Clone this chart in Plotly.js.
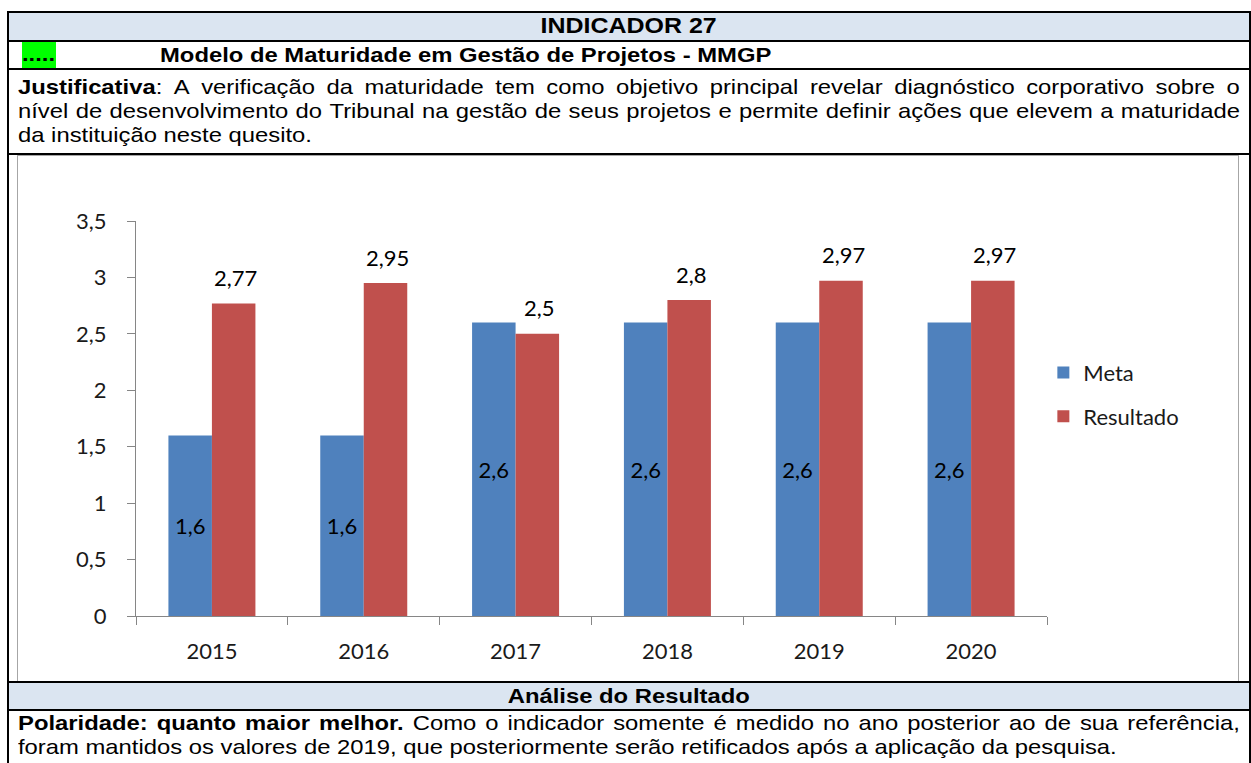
<!DOCTYPE html>
<html><head><meta charset="utf-8">
<script src="https://cdn.plot.ly/plotly-3.0.1.min.js"></script>
<style>
body{margin:0;background:#fff;width:1251px;height:763px;overflow:hidden;position:relative;font-family:"Liberation Sans",Arial,sans-serif;color:#000}
.hl{position:absolute;left:7px;width:1244px;height:2px;background:#000}
.vl{position:absolute;top:11px;width:2px;height:760px;background:#000}
.bg{position:absolute;left:9px;width:1240px;background:#dbe5f1}
.row{position:absolute;font-size:21px;line-height:24px;height:24px;white-space:nowrap}
.sc{display:inline-block;transform:scaleX(1.134)}
.left .sc{transform-origin:0 50%}
.center{left:9px;width:1240px;text-align:center}
.center .sc{transform-origin:50% 50%}
.just{left:18px;width:1077.6px;display:flex;justify-content:space-between;transform-origin:0 50%;transform:scaleX(1.134)}
#frame{position:absolute;left:17px;top:155px;width:1222px;height:526px;border:1px solid #a6a6a6;border-bottom:none;box-sizing:border-box}
#chart{position:absolute;left:18px;top:156px;width:1221px;height:525px}
#green{position:absolute;left:22px;top:42px;width:34px;height:26px;background:#00ff00}
</style></head>
<body>
<div class="bg" style="top:13px;height:27px"></div>
<div class="bg" style="top:683px;height:26px"></div>
<div id="green"></div>
<div id="frame"></div>
<div id="chart"></div>

<div class="hl" style="top:11px"></div>
<div class="hl" style="top:40px"></div>
<div class="hl" style="top:68px"></div>
<div class="hl" style="top:153px"></div>
<div class="hl" style="top:681px"></div>
<div class="hl" style="top:709px"></div>
<div class="vl" style="left:7px"></div>
<div class="vl" style="left:1249px"></div>

<div class="row center" style="top:14px;font-size:22px"><span class="sc"><b>INDICADOR 27</b></span></div>
<div class="row left" style="left:22px;top:42px"><span class="sc"><b>.....</b></span></div>
<div class="row left" style="left:160px;top:43px"><span class="sc"><b>Modelo de Maturidade em Gestão de Projetos - MMGP</b></span></div>
<div class="row just" id="j1" style="top:75px"></div>
<div class="row just" id="j2" style="top:99px"></div>
<div class="row left" style="left:18px;top:123px"><span class="sc">da instituição neste quesito.</span></div>
<div class="row center" style="top:684px"><span class="sc"><b>Análise do Resultado</b></span></div>
<div class="row just" id="f1" style="top:711px"></div>
<div class="row left" style="left:18px;top:735px"><span class="sc">foram mantidos os valores de 2019, que posteriormente serão retificados após a aplicação da pesquisa.</span></div>

<script>
// ---- chart data ----
const years = ['2015', '2016', '2017', '2018', '2019', '2020'];
const meta = [1.6, 1.6, 2.6, 2.6, 2.6, 2.6];
const resultado = [2.77, 2.95, 2.5, 2.8, 2.97, 2.97];
const seriesNames = ['Meta', 'Resultado'];
const yTickVals = [0, 0.5, 1, 1.5, 2, 2.5, 3, 3.5];

// ---- justified text lines ----
function fillLine(id, words) {
  const el = document.getElementById(id);
  el.innerHTML = words.map(w => '<span>' + w + '</span>').join('');
}
fillLine('j1', ('<b>Justificativa</b>: A verificação da maturidade tem como objetivo principal revelar diagnóstico corporativo sobre o').split(' '));
fillLine('j2', ('nível de desenvolvimento do Tribunal na gestão de seus projetos e permite definir ações que elevem a maturidade').split(' '));
fillLine('f1', ['<b>Polaridade:</b>', '<b>quanto</b>', '<b>maior</b>', '<b>melhor.</b>'].concat('Como o indicador somente é medido no ano posterior ao de sua referência,'.split(' ')));

const fmt = v => String(v).replace('.', ',');
const chartFont = 'Lato, "Open Sans", sans-serif';

// layout geometry (style, not data)
const W = 1221, H = 525, M = {l: 118, r: 192, t: 65, b: 65};
const BARGAP = 0.427;
const barPx = (W - M.l - M.r) / years.length * (1 - BARGAP) / 2;

const traces = [
  {
    type: 'bar', name: seriesNames[0], x: years, y: meta,
    marker: {color: '#4f81bd'},
    text: meta.map(fmt), textposition: 'inside', insidetextanchor: 'middle',
    constraintext: 'none', textangle: 0,
    insidetextfont: {family: chartFont, size: 22, color: '#000'},
    legendgroup: 'a', hoverinfo: 'none'
  },
  {
    type: 'bar', name: seriesNames[1], x: years, y: resultado,
    marker: {color: '#c0504d'},
    legendgroup: 'b', hoverinfo: 'none'
  }
];

// value labels above the Resultado bars (category index on the category axis)
const labelAnnotations = years.map((yr, i) => ({
  x: i, y: resultado[i], xref: 'x', yref: 'y',
  text: fmt(resultado[i]), showarrow: false,
  xanchor: 'center', yanchor: 'middle',
  xshift: barPx / 2 + 2, yshift: 26,
  font: {family: chartFont, size: 22, color: '#000'}
}));

const layout = {
  width: W, height: H,
  margin: M,
  paper_bgcolor: 'rgba(0,0,0,0)', plot_bgcolor: 'rgba(0,0,0,0)',
  separators: ',.',
  barmode: 'group', bargap: BARGAP, bargroupgap: 0,
  font: {family: chartFont, size: 22, color: '#1a1a1a'},
  showlegend: true,
  annotations: labelAnnotations,
  legend: {x: 0.996, xanchor: 'left', y: 0.56, yanchor: 'middle',
           font: {family: chartFont, size: 22, color: '#1a1a1a'},
           traceorder: 'grouped', tracegroupgap: 12, itemwidth: 30},
  xaxis: {type: 'category', categoryarray: years, categoryorder: 'array',
          range: [-0.5, years.length - 0.5],
          showgrid: false, zeroline: false,
          showline: true, linecolor: '#868686', linewidth: 1,
          ticks: 'outside', tickson: 'boundaries', ticklen: 8, tickcolor: '#868686',
          ticklabelstandoff: 16, tickfont: {family: chartFont, size: 22, color: '#1a1a1a'}},
  yaxis: {range: [0, 3.5], tickvals: yTickVals, showgrid: false, zeroline: false,
          showline: true, linecolor: '#868686', linewidth: 1,
          ticks: 'outside', ticklen: 8, tickcolor: '#868686',
          ticklabelstandoff: 16, tickfont: {family: chartFont, size: 22, color: '#1a1a1a'}}
};

Plotly.newPlot('chart', traces, layout, {displayModeBar: false, staticPlot: true});
</script>
</body></html>
